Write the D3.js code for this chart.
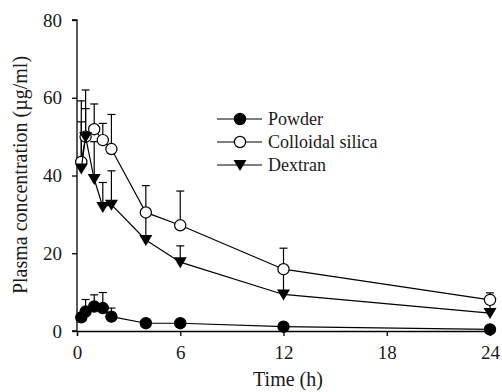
<!DOCTYPE html>
<html>
<head>
<meta charset="utf-8">
<script src="https://cdn.jsdelivr.net/npm/d3@7"></script>
<style>
  body { margin: 0; background: #fff; }
</style>
</head>
<body>
<svg id="svg"></svg>
<script>
// sampling times (h)
const times = [0.25, 0.5, 1, 1.5, 2, 4, 6, 12, 24]

// means and upper error bar tops (mean + SD)
const powder      = [3.5, 5.0, 6.3, 5.9, 3.7, 2.0, 2.0, 1.1, 0.4]
const powderTop   = [4.6, 8.1, 9.3, 9.9, 5.9, 2.6, 2.6, 1.6, 0.8]
const silica      = [43.5, 50.0, 51.9, 49.1, 46.8, 30.5, 27.2, 15.9, 8.0]
const silicaTop   = [59.2, 57.2, 58.4, 53.4, 55.7, 37.4, 36.0, 21.3, 9.8]
const dextran     = [41.8, 49.9, 39.1, 31.9, 32.5, 23.4, 17.7, 9.4, 4.6]
const dextranTop  = [53.8, 62.0, 48.7, 38.2, 41.2, 30.0, 21.9, 15.0, 7.0]

const xTicks = [0, 6, 12, 18, 24]
const yTicks = [0, 20, 40, 60, 80]
const seriesNames = ['Powder', 'Colloidal silica', 'Dextran']

const width = 502
const height = 392
const font = 'Liberation Serif'
const ink = '#1a1a1a'

const svg = d3.select('#svg')
    .attr('width', width)
    .attr('height', height)

const x = d3.scaleLinear().domain([0, 24]).range([77, 490])
const y = d3.scaleLinear().domain([0, 80]).range([331, 20])

// axes
const xAxis = svg.append('g')
    .attr('transform', `translate(0,${y(0)})`)
    .call(d3.axisBottom(x).tickValues(xTicks).tickSize(5).tickPadding(10))
const yAxis = svg.append('g')
    .attr('transform', `translate(${x(0)},0)`)
    .call(d3.axisLeft(y).tickValues(yTicks).tickSize(5).tickPadding(10))

;[xAxis, yAxis].forEach(ax => {
    ax.attr('font-family', font)
    ax.select('.domain').attr('stroke', '#000').attr('stroke-width', 1.3)
    ax.selectAll('.tick line').attr('stroke', '#000').attr('stroke-width', 1.3)
    ax.selectAll('.tick text')
        .attr('font-size', 19)
        .attr('fill', ink)
})
yAxis.select('.domain').attr('d', `M-5,${y(80)}H0V${y(0)}H-5`)
xAxis.selectAll('.tick text').attr('dy', '0.71em')

// axis titles
svg.append('text')
    .text('Time (h)')
    .attr('font-family', font)
    .attr('font-size', 20)
    .attr('fill', ink)
    .attr('text-anchor', 'middle')
    .attr('x', 288)
    .attr('y', 386)

svg.append('text')
    .text('Plasma concentration (µg/ml)')
    .attr('font-family', font)
    .attr('font-size', 20)
    .attr('fill', ink)
    .attr('text-anchor', 'middle')
    .attr('transform', 'translate(27,175) rotate(-90)')

const line = d3.line()
    .x((d, i) => x(times[i]))
    .y(d => y(d))

const triangle = 'M-6.5,-5L6.5,-5L0,6Z'

function drawMarker(g, kind, cx, cy) {
    if (kind === 'tri') {
        g.append('path')
            .attr('d', triangle)
            .attr('transform', `translate(${cx},${cy})`)
            .attr('fill', '#000')
    } else {
        g.append('circle')
            .attr('cx', cx).attr('cy', cy).attr('r', 5.6)
            .attr('fill', kind === 'filled' ? '#000' : '#fff')
            .attr('stroke', '#000')
            .attr('stroke-width', 1.2)
    }
}

const series = [
    { values: powder, tops: powderTop, kind: 'filled' },
    { values: silica, tops: silicaTop, kind: 'open' },
    { values: dextran, tops: dextranTop, kind: 'tri' }
]

// error bars first so the markers sit on top
const bars = svg.append('g')
series.forEach(s => {
    s.values.forEach((v, i) => {
        const cx = x(times[i])
        bars.append('line')
            .attr('x1', cx).attr('x2', cx)
            .attr('y1', y(v)).attr('y2', y(s.tops[i]))
            .attr('stroke', '#000').attr('stroke-width', 1.2)
        bars.append('line')
            .attr('x1', cx - 4).attr('x2', cx + 4)
            .attr('y1', y(s.tops[i])).attr('y2', y(s.tops[i]))
            .attr('stroke', '#000').attr('stroke-width', 1.2)
    })
})

series.forEach(s => {
    const g = svg.append('g')
    g.append('path')
        .attr('d', line(s.values))
        .attr('fill', 'none')
        .attr('stroke', '#000')
        .attr('stroke-width', 1.2)
    s.values.forEach((v, i) => drawMarker(g, s.kind, x(times[i]), y(v)))
})

// legend
const legend = svg.append('g')
series.forEach((s, i) => {
    const ly = 119 + i * 23
    legend.append('line')
        .attr('x1', 217).attr('x2', 262)
        .attr('y1', ly).attr('y2', ly)
        .attr('stroke', '#000').attr('stroke-width', 1.2)
    drawMarker(legend, s.kind, 240, ly)
    legend.append('text')
        .text(seriesNames[i])
        .attr('font-family', font)
        .attr('font-size', 18)
        .attr('fill', ink)
        .attr('x', 268)
        .attr('y', ly + 6)
})
</script>
</body>
</html>
